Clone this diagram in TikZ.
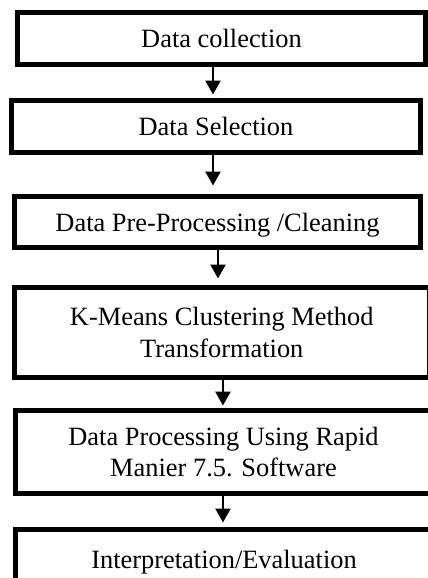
\documentclass[tikz,border=0pt]{standalone}
\usepackage{fontspec}
\setmainfont{Liberation Serif}
\usetikzlibrary{arrows.meta}
\tikzset{
  stage/.style={draw,line width=2.5pt,inner sep=0pt,align=center},
  single/.style={text height=9pt,text depth=0pt},
  flow/.style={->,line width=1.3pt}
}
\begin{document}
\begin{tikzpicture}[x=0.5pt,y=-0.5pt,>={Triangle[length=7pt,width=7.5pt]},font=\fontsize{13.2}{15.75}\selectfont]
\clip (0,0) rectangle (428,578);
\node[stage,single,minimum width=204pt,minimum height=26pt] (collect) at (221.5,38.5) {Data collection};
\node[stage,single,minimum width=204.5pt,minimum height=26pt] (select) at (216,126.5) {Data Selection};
\node[stage,single,minimum width=203pt,minimum height=25.5pt] (clean) at (217.5,222) {Data Pre-Processing /Cleaning};
\node[stage,minimum width=207.25pt,minimum height=45pt] (kmeans) at (221.75,332.5) {K-Means Clustering Method\\Transformation};
\node[stage,minimum width=208pt,minimum height=41.5pt] (rapid) at (223.5,452) {Data Processing Using Rapid\\Manier 7.5. Software};
\node[stage,single,text depth=5.5pt,minimum width=209pt,minimum height=35pt] (interp) at (224,564.5) {Interpretation/Evaluation};
\foreach \a/\b/\dx/\gap in {collect/select/-4.25/1.75,select/clean/-1.5/4.25,clean/kmeans/0.25/3.25,kmeans/rapid/0.6/1.25,rapid/interp/-0.25/2.25}
  {\draw[flow,shorten >=\gap pt] ([xshift=\dx pt]\a.south) -- ([xshift=\dx pt]\a.south |- \b.north);}
\end{tikzpicture}
\end{document}
